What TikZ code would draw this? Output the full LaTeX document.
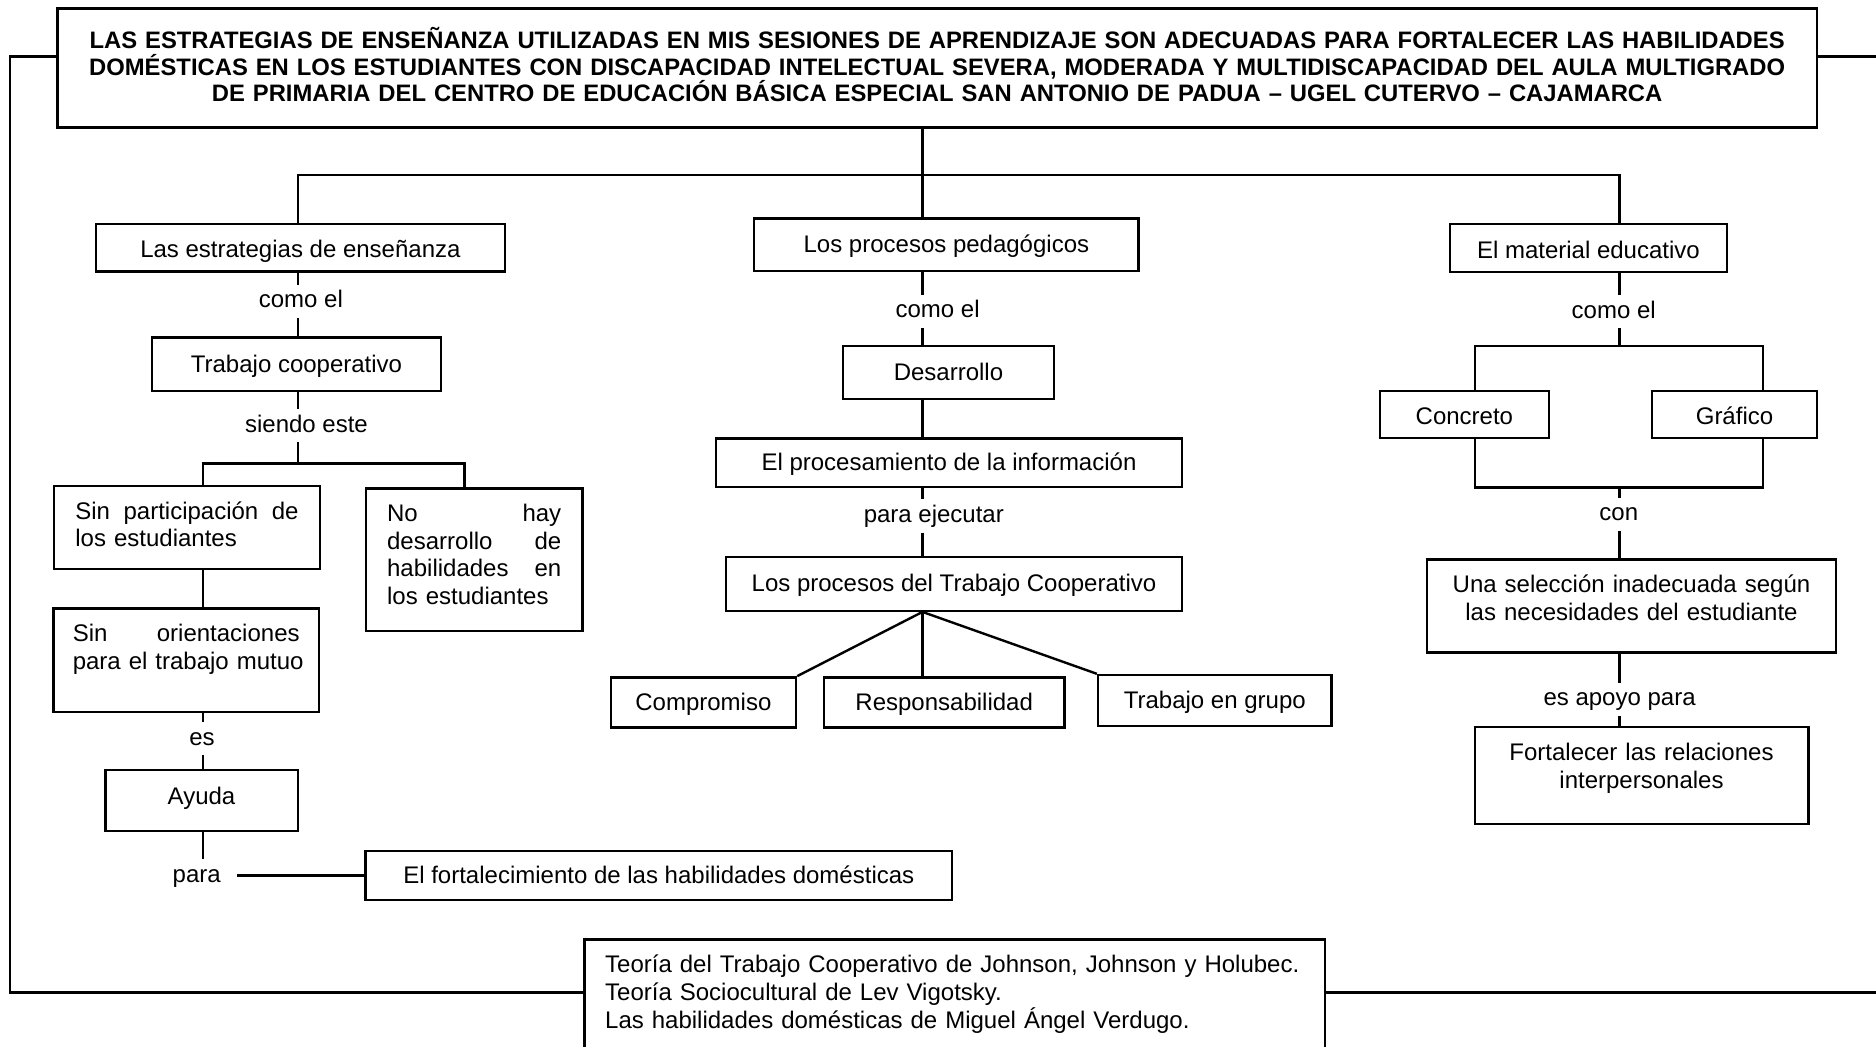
\documentclass[tikz,border=0pt]{standalone}
\usepackage{fontspec}
\setmainfont{Liberation Sans}
\usepackage{tikz}

\tikzset{
  box/.style={draw, font=\fontsize{12pt}{13.8pt}\selectfont,
    inner sep=0pt, text height=10pt, text depth=2pt},
  low/.style={text height=11.5pt, text depth=1.5pt},
  tbox/.style={draw, font=\fontsize{12pt}{13.8pt}\selectfont,
    inner xsep=10.7pt, inner ysep=6pt, text height=10.7pt},
  lbl/.style={font=\fontsize{12pt}{13.8pt}\selectfont,
    inner xsep=1pt, inner ysep=2pt, text height=9pt, text depth=2.5pt},
  sz/.style 2 args={minimum width=#1, minimum height=#2}
}

\begin{document}
\begin{tikzpicture}[x=1pt, y=-1pt, line width=1.2pt]
  \useasboundingbox (0,0) rectangle (938,523);
  \clip (0,0) rectangle (938,523);

  % guide lines
  \coordinate (colA) at (149,0);
  \coordinate (colB) at (461.25,0);
  \coordinate (colC) at (809.65,0);
  \coordinate (colL) at (101.5,0);
  \coordinate (colN) at (232.15,0);
  \coordinate (colCo) at (737.35,0);
  \coordinate (colGr) at (881.5,0);
  \coordinate (barT) at (0,87.5);
  \coordinate (barL) at (0,231.65);
  \coordinate (barR) at (0,173);
  \coordinate (barR2) at (0,243.65);
  \coordinate (lnT) at (0,28.2);
  \coordinate (lnB) at (0,496.15);
  \coordinate (rimL) at (5,0);
  \coordinate (rimR) at (940,0);

  % title
  \node[tbox, font=\bfseries\fontsize{11.9pt}{13.4pt}\selectfont, align=center,
    inner xsep=6pt, text width=867.75pt, text height=14pt, text depth=33.5pt]
    (title) at (468.6,33.9)
    {LAS ESTRATEGIAS DE ENSEÑANZA UTILIZADAS EN MIS SESIONES DE APRENDIZAJE SON ADECUADAS PARA FORTALECER LAS HABILIDADES\\
     DOMÉSTICAS EN LOS ESTUDIANTES CON DISCAPACIDAD INTELECTUAL SEVERA, MODERADA Y MULTIDISCAPACIDAD DEL AULA MULTIGRADO\\
     DE PRIMARIA DEL CENTRO DE EDUCACIÓN BÁSICA ESPECIAL SAN ANTONIO DE PADUA – UGEL CUTERVO – CAJAMARCA};

  % left branch
  \node[box, low, sz={204.4pt}{23.85pt}] (estr) at (150.2,123.9) {Las estrategias de enseñanza};
  \node[lbl] (comoA) at (150.45,150.7) {como el};
  \node[box, sz={144.5pt}{26.85pt}] (coop) at (148.25,182.1) {Trabajo cooperativo};
  \node[lbl] (siendo) at (153.25,212.75) {siendo este};
  \node[tbox, align=left, text width=111.6pt, text depth=18.95pt] (sinPart) at (93.5,263.8)
    {Sin\hfill participación\hfill de\\los estudiantes};
  \node[tbox, align=left, text width=87.05pt, text depth=48.5pt] (noHay) at (237.1,279.75)
    {No\hfill hay\\desarrollo\hfill de\\habilidades\hfill en\\los estudiantes};
  \node[tbox, align=left, inner xsep=9.7pt, text width=113.45pt, text depth=29pt] (sinOri) at (93.1,330)
    {Sin\hfill orientaciones\\\mbox{para el trabajo mutuo}};
  \node[lbl] (es) at (101,369.3) {es};
  \node[box, sz={96.2pt}{30.35pt}, text height=8pt, text depth=4pt] (ayuda) at (100.75,400.2) {Ayuda};
  \node[lbl] (para) at (98.35,437.8) {para};
  \node[box, sz={293.15pt}{24.5pt}] (fortal) at (329.4,437.6) {El fortalecimiento de las habilidades domésticas};

  % middle branch
  \node[box, sz={192.2pt}{26.2pt}] (proc) at (473.2,122.25) {Los procesos pedagógicos};
  \node[lbl] (comoB) at (468.8,155.6) {como el};
  \node[box, sz={105.5pt}{26.5pt}] (desa) at (474.25,186.25) {Desarrollo};
  \node[box, sz={233pt}{24.15pt}] (procInfo) at (474.5,231.4) {El procesamiento de la información};
  \node[lbl] (ejec) at (466.9,257.9) {para ejecutar};
  \node[box, sz={228pt}{27pt}] (procTC) at (477,291.85) {Los procesos del Trabajo Cooperativo};
  \node[box, sz={92.65pt}{25pt}] (compr) at (351.7,351.15) {Compromiso};
  \node[box, sz={120.15pt}{25pt}] (resp) at (472.1,351.15) {Responsabilidad};
  \node[box, sz={116.75pt}{25.5pt}] (grupo) at (607.4,350.25) {Trabajo en grupo};

  % right branch
  \node[box, low, sz={138.35pt}{24pt}] (mater) at (794.2,124) {El material educativo};
  \node[lbl] (comoC) at (806.85,155.8) {como el};
  \node[box, low, sz={84.35pt}{23.35pt}] (concr) at (732.2,207.3) {Concreto};
  \node[box, low, sz={82.5pt}{23.35pt}] (graf) at (867.25,207.3) {Gráfico};
  \node[lbl] (con) at (809.4,257.1) {con};
  \node[tbox, align=center, text width=183.1pt, text depth=23.8pt] (selec) at (815.75,302.9)
    {Una selección inadecuada según\\las necesidades del estudiante};
  \node[lbl] (apoyo) at (809.8,349.6) {es apoyo para};
  \node[tbox, align=center, text width=145.4pt, text depth=25.65pt] (relac) at (820.75,387.8)
    {Fortalecer las relaciones\\interpersonales};

  % theories
  \node[tbox, anchor=north west, align=left, inner xsep=10.35pt, text width=349.65pt, text depth=60pt]
    (teoria) at (291.65,469.15)
    {Teoría del Trabajo Cooperativo de Johnson, Johnson y Holubec.\\
     Teoría Sociocultural de Lev Vigotsky.\\
     Las habilidades domésticas de Miguel Ángel Verdugo.};

  % title to the three branches
  \draw (title.south -| colB) -- (barT -| colB);
  \draw (estr.north -| colA) |- (barT -| colC) -- (mater.north -| colC);
  \draw (barT -| colB) -- (proc.north -| colB);

  % left connectors
  \draw (estr.south -| colA) -- (comoA.north -| colA);
  \draw (comoA.south -| colA) -- (coop.north -| colA);
  \draw (coop.south -| colA) -- (siendo.north -| colA);
  \draw (siendo.south -| colA) -- (barL -| colA);
  \draw (sinPart.north -| colL) |- (barL -| colN) -- (noHay.north -| colN);
  \draw (sinPart.south -| colL) -- (sinOri.north -| colL);
  \draw (sinOri.south -| colL) -- (es.north -| colL);
  \draw (es.south -| colL) -- (ayuda.north -| colL);
  \draw (ayuda.south -| colL) -- (para.north -| colL);
  \draw ([xshift=6.5pt]para.east) -- (para.east -| fortal.west);

  % middle connectors
  \draw (proc.south -| colB) -- (comoB.north -| colB);
  \draw (comoB.south -| colB) -- (desa.north -| colB);
  \draw (desa.south -| colB) -- (procInfo.north -| colB);
  \draw (procInfo.south -| colB) -- (ejec.north -| colB);
  \draw (ejec.south -| colB) -- (procTC.north -| colB);
  \draw (procTC.south -| colB) -- (compr.north east);
  \draw (procTC.south -| colB) -- (resp.north -| colB);
  \draw (procTC.south -| colB) -- (grupo.north west);

  % right connectors
  \draw (mater.south -| colC) -- (comoC.north -| colC);
  \draw (comoC.south -| colC) -- (barR -| colC);
  \draw (concr.north -| colCo) |- (barR -| colGr) -- (graf.north -| colGr);
  \draw (concr.south -| colCo) |- (barR2 -| colGr) -- (graf.south -| colGr);
  \draw (barR2 -| colC) -- (con.north -| colC);
  \draw (con.south -| colC) -- (selec.north -| colC);
  \draw (selec.south -| colC) -- (apoyo.north -| colC);
  \draw (apoyo.south -| colC) -- (relac.north -| colC);

  % outer frame
  \draw (title.west |- lnT) -| (rimL |- lnB) -- (teoria.west |- lnB);
  \draw (title.east |- lnT) -- (rimR |- lnT);
  \draw (teoria.east |- lnB) -- (rimR |- lnB);
\end{tikzpicture}
\end{document}
